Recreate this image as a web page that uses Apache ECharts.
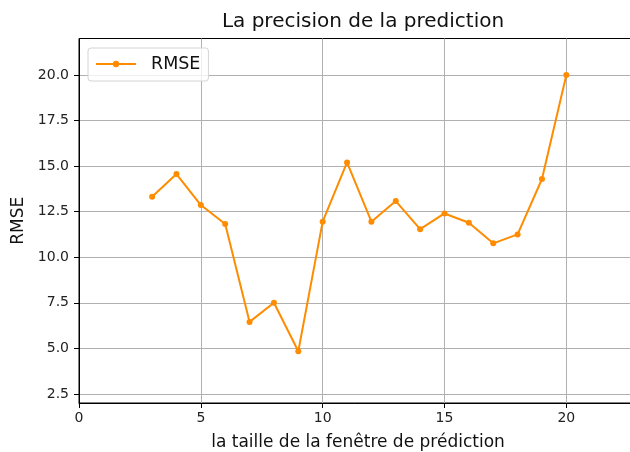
<!DOCTYPE html>
<html>
<head>
<meta charset="utf-8">
<script src="https://cdn.jsdelivr.net/npm/echarts@6/dist/echarts.min.js"></script>
<style>
  html, body { margin: 0; padding: 0; background: #fff; }
  #chart { width: 630px; height: 452px; }
</style>
</head>
<body>
<div id="chart"></div>
<script>
// Window sizes and their prediction error
const windowSizes = [3, 4, 5, 6, 7, 8, 9, 10, 11, 12, 13, 14, 15, 16, 17, 18, 19, 20];
const rmseValues = [13.32, 14.56, 12.86, 11.82, 6.45, 7.5, 4.84, 11.95, 15.2, 11.95, 13.08, 11.54, 12.4, 11.89, 10.76, 11.25, 14.29, 20.0];
const xTicks = [0, 5, 10, 15, 20];
const yTicks = [2.5, 5.0, 7.5, 10.0, 12.5, 15.0, 17.5, 20.0];

const FONT = 'DejaVu Sans';
const chart = echarts.init(document.getElementById('chart'), null, { renderer: 'canvas' });

chart.setOption({
  animation: false,
  backgroundColor: '#fff',
  title: {
    text: 'La precision de la prediction',
    left: 358,
    top: 7,
    textAlign: 'center',
    textStyle: { fontFamily: FONT, fontSize: 20, fontWeight: 'normal', color: '#111' }
  },
  legend: {
    data: ['RMSE'],
    left: 88,
    top: 48,
    padding: [7, 8, 8, 7],
    itemWidth: 40,
    itemHeight: 8,
    borderColor: '#d4d4d4',
    borderWidth: 1,
    borderRadius: 3,
    backgroundColor: 'rgba(255,255,255,0.8)',
    textStyle: { fontFamily: FONT, fontSize: 17.5, color: '#111', padding: [0, 0, 0, 10] }
  },
  grid: {
    left: 79,
    top: 38.5,
    width: 558,
    height: 364.5,
    outerBoundsMode: 'none',
    show: true,
    borderColor: '#000',
    borderWidth: 1,
    containLabel: false
  },
  xAxis: {
    type: 'value',
    min: 0,
    max: 22.9,
    name: 'la taille de la fenêtre de prédiction',
    nameLocation: 'middle',
    nameGap: 31,
    nameTextStyle: { fontFamily: FONT, fontSize: 17, color: '#111' },
    axisLine: { show: true, lineStyle: { color: '#000', width: 1 } },
    axisTick: { show: true, inside: false, length: 5, customValues: xTicks, lineStyle: { color: '#000' } },
    axisLabel: {
      customValues: xTicks,
      margin: 8,
      fontFamily: FONT, fontSize: 14, color: '#222',
      formatter: v => String(v)
    },
    splitLine: { show: true, lineStyle: { color: '#b0b0b0', width: 1 } }
  },
  yAxis: {
    type: 'value',
    min: 2.0,
    max: 22.0,
    name: 'RMSE',
    nameLocation: 'middle',
    nameGap: 47,
    nameTextStyle: { fontFamily: FONT, fontSize: 17, color: '#111' },
    axisLine: { show: true, lineStyle: { color: '#000', width: 1 } },
    axisTick: { show: true, inside: false, length: 5, customValues: yTicks, lineStyle: { color: '#000' } },
    axisLabel: {
      customValues: yTicks,
      margin: 10,
      fontFamily: FONT, fontSize: 14, color: '#222',
      formatter: v => v.toFixed(1)
    },
    splitLine: { show: true, lineStyle: { color: '#b0b0b0', width: 1 } }
  },
  series: [{
    name: 'RMSE',
    type: 'line',
    data: windowSizes.map((w, i) => [w, rmseValues[i]]),
    symbol: 'circle',
    symbolSize: 6,
    showAllSymbol: true,
    lineStyle: { color: '#ff8c00', width: 2 },
    itemStyle: { color: '#ff8c00' },
    emphasis: { disabled: true }
  }]
});
</script>
</body>
</html>
